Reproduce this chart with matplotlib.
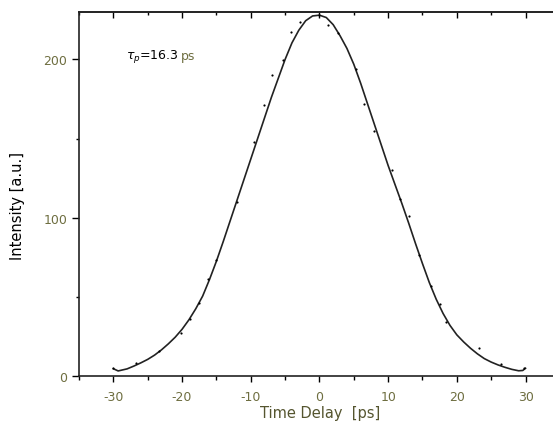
import matplotlib
matplotlib.use("Agg")
import matplotlib.pyplot as plt
from matplotlib.ticker import MultipleLocator

# fitted curve
fit_x = [-30, -29.3, -28, -27, -26, -25, -24, -23, -22, -21, -20, -19, -18, -17, -16,
         -15, -14, -13, -12, -11, -10, -9, -8, -7, -6, -5, -4, -3, -2, -1, 0,
         1, 2, 3, 4, 5, 6, 7, 8, 9, 10, 11, 12, 13, 14, 15, 16, 17, 18, 19, 20,
         21, 22, 23, 24, 25, 26, 27, 28, 29, 29.6, 30]
fit_y = [4.6, 3.2, 4.5, 6.3, 8.3, 10.5, 13.2, 16.5, 20.3, 24.5, 29.5, 35.5, 42.5, 50.5, 61,
         72.5, 85, 98, 111, 124, 137, 150, 163, 176, 188, 200, 210.5, 218.5, 224.5, 227.5, 228,
         226.5, 222, 215, 207, 197, 185, 172, 159, 146, 133, 121, 109, 96.5, 83.5, 71, 59,
         48.5, 39.5, 32, 26, 21.5, 17.5, 14, 11, 8.8, 7, 5.5, 4.2, 3.3, 3.5, 4.9]

# measured points
data_x = [-30.1, -26.7, -23.3, -20.2, -18.9, -17.6, -16.2, -15.0, -12.0, -9.5, -8.1,
          -6.9, -5.3, -4.1, -2.9, 0.0, 1.2, 2.7, 5.3, 6.5, 7.9, 10.5, 11.8, 13.0, 14.5,
          16.3, 17.5, 18.4, 23.3, 26.4, 29.8]
data_y = [4.9, 8.3, 16, 27.4, 36.3, 46, 61.4, 73, 110, 148, 171, 190.5, 199.6, 217.5,
          223.5, 228, 222, 217, 194, 172, 155, 130, 112, 101, 76.5, 57, 45.6, 34, 17.5,
          7.6, 4.9]

x_ticks = [-30, -20, -10, 0, 10, 20, 30]
y_ticks = [0, 100, 200]

plt.rcParams['font.family'] = ['DejaVu Sans']
plt.rcParams['mathtext.fontset'] = 'dejavusans'
plt.rcParams['axes.unicode_minus'] = False
olive = '#6e6e40'

fig = plt.figure(figsize=(5.53, 4.27), dpi=100)
ax = fig.add_axes([79/553, 1-377/427, 1-79/553, (377-13)/427])

ax.plot(fit_x, fit_y, color='#222222', lw=1.2)
ax.scatter(data_x, data_y, s=2.5, color='black', zorder=3, linewidths=0)

ax.set_xlim(-35, 34)
ax.set_ylim(0, 230)
ax.set_xticks(x_ticks)
ax.set_yticks(y_ticks)
ax.xaxis.set_minor_locator(MultipleLocator(5))
ax.yaxis.set_minor_locator(MultipleLocator(50))
ax.tick_params(which='major', direction='out', width=1.0,
               labelsize=9, labelcolor=olive)
ax.tick_params(axis='x', which='major', length=4.3, pad=5.5)
ax.tick_params(axis='x', which='minor', direction='out', length=2.9, width=1.0)
ax.tick_params(axis='y', which='major', length=5.0, pad=3.5)
ax.tick_params(axis='y', which='minor', direction='out', length=2.2, width=1.0)
ax.tick_params(top=False, right=False)
ax.spines['right'].set_visible(False)
for s in ['left', 'bottom', 'top']:
    ax.spines[s].set_linewidth(1.2)
    ax.spines[s].set_color('#222222')

sec = ax.secondary_xaxis('top')
sec.set_xticks(x_ticks)
sec.xaxis.set_minor_locator(MultipleLocator(5))
sec.tick_params(which='major', direction='in', length=4.5, width=1.0, labeltop=False)
sec.tick_params(which='minor', direction='in', length=2.5, width=1.0)
sec.spines['top'].set_linewidth(1.2)
sec.spines['top'].set_color('#222222')

ax.set_ylabel('Intensity [a.u.]', fontsize=10.5, color='black')
ax.yaxis.set_label_coords(-0.129, 0.47)
ax.yaxis.label.set_va('center')
ax.yaxis.label.set_ha('center')
ax.set_xlabel('Time Delay  [ps]', fontsize=10.5, color='#55552f')
ax.xaxis.set_label_coords(0.508, -0.099)
ax.xaxis.label.set_va('center')
ax.xaxis.label.set_ha('center')

t1 = ax.text(-28.1, 202.5, r'$\tau_p$=16.3', fontsize=9, color='black',
             va='center', ha='left')
ax.annotate('ps', xy=(1, 0.5), xycoords=t1, xytext=(1.5, 0),
            textcoords='offset points', va='center', ha='left',
            fontsize=9, color=olive)

fig.savefig('out.png', dpi=100)
